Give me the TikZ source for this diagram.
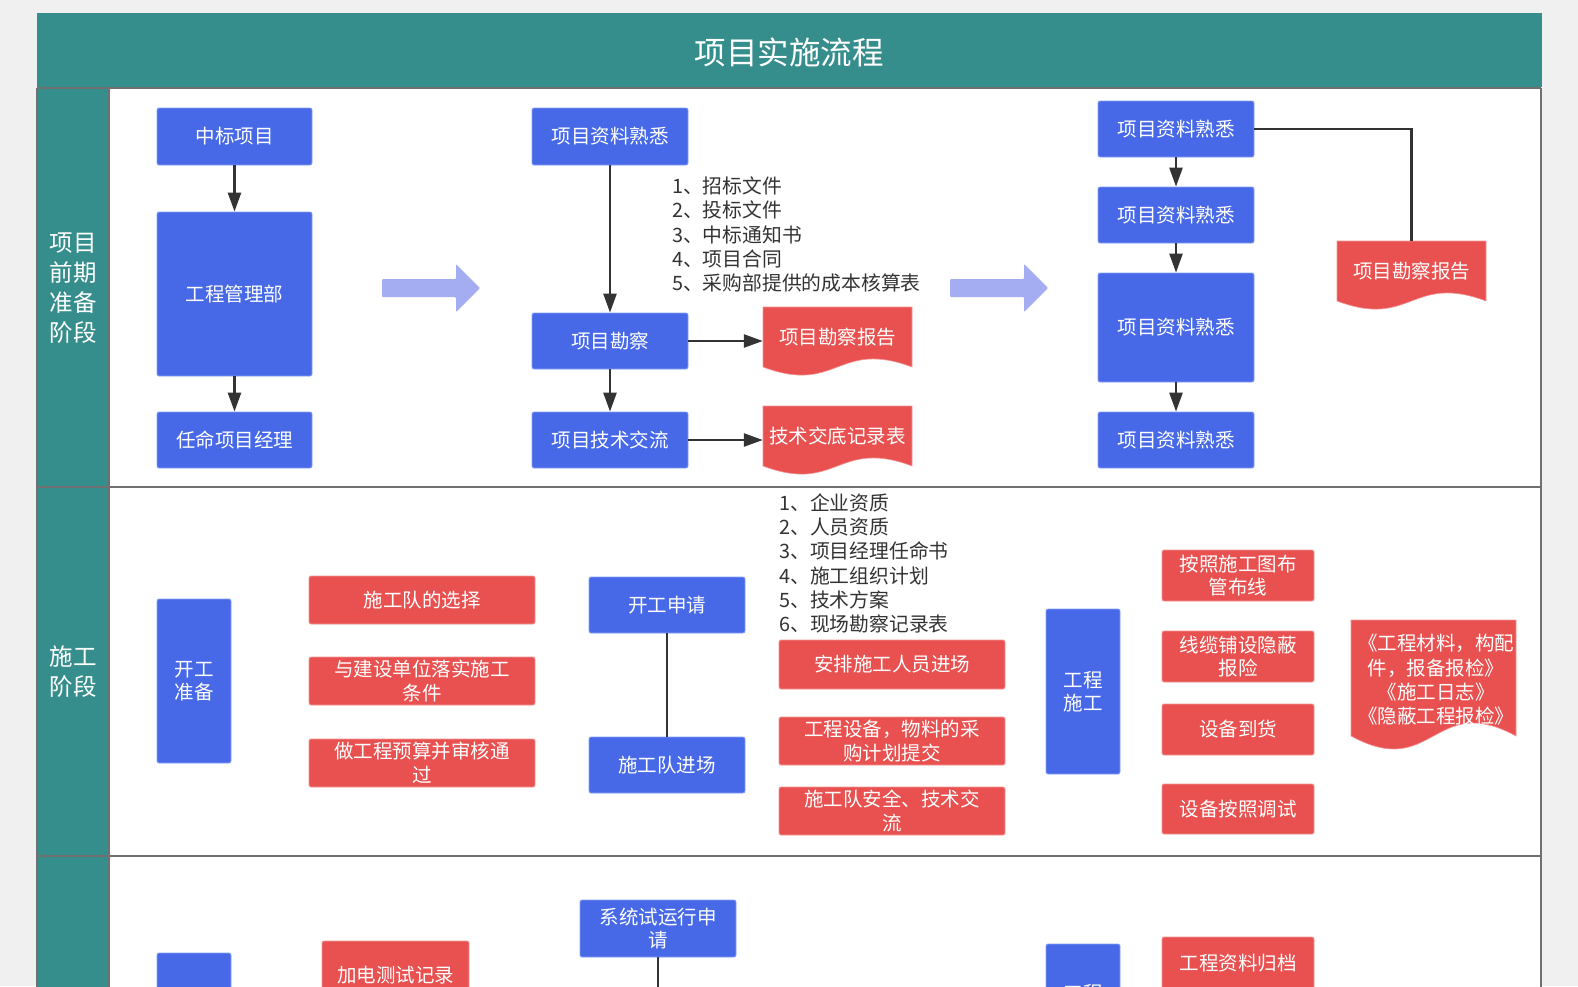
\documentclass[tikz,border=0pt]{standalone}
\usepackage{fontspec}
\setmainfont{Noto Sans CJK SC}
\usetikzlibrary{positioning,calc,arrows.meta}
\definecolor{lanecol}{RGB}{54,142,140}
\definecolor{boxblue}{RGB}{71,105,232}
\definecolor{blueline}{RGB}{135,160,245}
\definecolor{docred}{RGB}{232,81,80}
\definecolor{redline}{RGB}{242,150,150}
\definecolor{fatarrow}{RGB}{165,173,242}
\definecolor{darkline}{RGB}{51,51,51}
\definecolor{framegray}{RGB}{112,112,112}
\definecolor{pagegray}{RGB}{240,240,240}

\begin{document}
\begin{tikzpicture}
[x=1pt,y=-1pt,>={Triangle[length=19pt,width=13pt]},
bluebox/.style = {draw=blueline, fill=boxblue, rounded corners=2pt, line width=0.8pt, text=white, inner sep=0pt, align=center, font=\fontsize{19.5}{23}\selectfont},
redbox/.style = {draw=redline, fill=docred, rounded corners=2pt, line width=0.8pt, text=white, inner sep=0pt, align=center, font=\fontsize{19.5}{23.5}\selectfont},
doctext/.style = {text=white, inner sep=0pt, align=center, font=\fontsize{19.5}{24.3}\selectfont},
listtext/.style = {text=darkline, inner sep=0pt, align=left, anchor=west, font=\fontsize{19.8}{24.3}\selectfont},
lanetext/.style = {text=white, inner sep=0pt, align=center, font=\fontsize{23.5}{30}\selectfont},
flow/.style = {draw=darkline, line width=2.5pt},
link/.style = {draw=darkline, line width=2.2pt},
frame/.style = {draw=framegray, line width=2pt},]
\useasboundingbox (0,0) rectangle (1578,986);
\clip (0,0) rectangle (1578,986);
\fill[pagegray] (0,0) rectangle (1578,986);

% title bar
\fill[lanecol] (37,13) rectangle (1542,87);
\node (T) at (789,52) [text=white, font=\fontsize{31.5}{36}\selectfont] {项目实施流程};

% lanes
\fill[white] (109,88) rectangle (1541,1000);
\fill[lanecol] (37,88) rectangle (109,1000);
\draw[frame] (37,88) -- (1541,88);
\draw[frame] (37,487) -- (1541,487);
\draw[frame] (37,856) -- (1541,856);
\draw[frame] (37,88) -- (37,1000);
\draw[frame] (109,88) -- (109,1000);
\draw[frame] (1541,88) -- (1541,1000);
\node (H1) at (73,288) [lanetext] {项目\\前期\\准备\\阶段};
\node (H2) at (73,672) [lanetext] {施工\\阶段};

% big arrows
\foreach \dx in {0,568}
\fill[fatarrow, rounded corners=1pt, shift={(\dx,0)}] (382,279) -- (456,279) -- (456,264) -- (480,288) -- (456,312) -- (456,297) -- (382,297) -- cycle;

% document shapes
\foreach \x/\y/\w/\h/\d in {763/307/149/60/28, 763/406/149/60/28, 1337/241/149/60/28, 1351/620/165/116/45}
\filldraw[fill=docred, draw=redline, line width=0.6pt] (\x,\y) -- ++(\w,0) -- ++(0,\h) .. controls +(-0.5*\w,-\d) and +(0.5*\w,\d) .. ++(-\w,0) -- cycle;

% lane 1
\node (ZB) at (234.5,136.5) [bluebox, minimum width=155pt, minimum height=57pt] {中标项目};
\node (GL) at (234.5,294) [bluebox, minimum width=155pt, minimum height=164pt] {工程管理部};
\node (RM) at (234.5,440) [bluebox, minimum width=155pt, minimum height=56pt] {任命项目经理};
\draw[flow,->] (ZB) -- (GL);
\draw[flow,->] (GL) -- (RM);

\node (ZL) at (610,136.5) [bluebox, minimum width=156pt, minimum height=57pt] {项目资料熟悉};
\node (KC) at (610,341) [bluebox, minimum width=156pt, minimum height=56pt] {项目勘察};
\node (JS) at (610,440) [bluebox, minimum width=156pt, minimum height=56pt] {项目技术交流};
\node (L1) at (672,234.5) [listtext] {1、招标文件\\2、投标文件\\3、中标通知书\\4、项目合同\\5、采购部提供的成本核算表};
\node (R1) at (837.5,337) [doctext, minimum width=149pt, minimum height=60pt] {项目勘察报告};
\node (R2) at (837.5,436) [doctext, minimum width=149pt, minimum height=60pt] {技术交底记录表};
\draw[flow,->] (ZL) -- (KC);
\draw[flow,->] (KC) -- (JS);
\draw[flow,->] (KC.east) -- (KC.east -| R1.west);
\draw[flow,->] (JS.east) -- (JS.east -| R2.west);

\node (C1) at (1176,129) [bluebox, minimum width=156pt, minimum height=56pt] {项目资料熟悉};
\node (C2) at (1176,215) [bluebox, minimum width=156pt, minimum height=56pt] {项目资料熟悉};
\node (C3) at (1176,327.5) [bluebox, minimum width=156pt, minimum height=109pt] {项目资料熟悉};
\node (C4) at (1176,440) [bluebox, minimum width=156pt, minimum height=56pt] {项目资料熟悉};
\node (R3) at (1411.5,271) [doctext, minimum width=149pt, minimum height=60pt] {项目勘察报告};
\draw[flow,->] (C1) -- (C2);
\draw[flow,->] (C2) -- (C3);
\draw[flow,->] (C3) -- (C4);
\draw[link] (C1.east) -| (R3.north);

% lane 2
\node (KZ) at (194,681) [bluebox, minimum width=74pt, minimum height=164pt] {开工\\准备};
\node (D1) at (422,600) [redbox, minimum width=226pt, minimum height=48pt] {施工队的选择};
\node (D2) at (422,681) [redbox, minimum width=226pt, minimum height=48pt] {与建设单位落实施工\\条件};
\node (D3) at (422,763) [redbox, minimum width=226pt, minimum height=48pt] {做工程预算并审核通\\过};
\node (SQ) at (667,605) [bluebox, minimum width=156pt, minimum height=56pt] {开工申请};
\node (JC) at (667,765) [bluebox, minimum width=156pt, minimum height=56pt] {施工队进场};
\draw[link] (SQ) -- (JC);
\node (L2) at (779,563.5) [listtext] {1、企业资质\\2、人员资质\\3、项目经理任命书\\4、施工组织计划\\5、技术方案\\6、现场勘察记录表};
\node (AP) at (892,664.5) [redbox, minimum width=226pt, minimum height=49pt] {安排施工人员进场};
\node (SB) at (892,741) [redbox, minimum width=226pt, minimum height=48pt] {工程设备，物料的采\\购计划提交};
\node (AQ) at (892,811) [redbox, minimum width=226pt, minimum height=48pt] {施工队安全、技术交\\流};
\node (GS) at (1083,691.5) [bluebox, minimum width=74pt, minimum height=165pt] {工程\\施工};
\node (BX) at (1238,575.5) [redbox, minimum width=152pt, minimum height=51pt] {按照施工图布\\管布线};
\node (XL) at (1238,656.5) [redbox, minimum width=152pt, minimum height=51pt] {线缆铺设隐蔽\\报险};
\node (DH) at (1238,729.5) [redbox, minimum width=152pt, minimum height=51pt] {设备到货};
\node (TS) at (1238,809) [redbox, minimum width=152pt, minimum height=50pt] {设备按照调试};
\node (R4) at (1436,680) [doctext] {《工程材料，构配\\件，报备报检》\\《施工日志》\\《隐蔽工程报检》};

% lane 3
\node (KY) at (194,1035) [bluebox, minimum width=74pt, minimum height=164pt] {};
\node (JD) at (395.5,975) [redbox, minimum width=147pt, minimum height=68pt] {加电测试记录};
\node (XT) at (658,928.5) [bluebox, minimum width=156pt, minimum height=57pt] {系统试运行申\\请};
\coordinate (XE) at (658,1000);
\draw[link] (XT) -- (XE);
\node (YS) at (1083,993) [bluebox, minimum width=74pt, minimum height=98pt] {工程};
\node (GD) at (1238,963) [redbox, minimum width=152pt, minimum height=52pt] {工程资料归档};

\end{tikzpicture}
\end{document}
